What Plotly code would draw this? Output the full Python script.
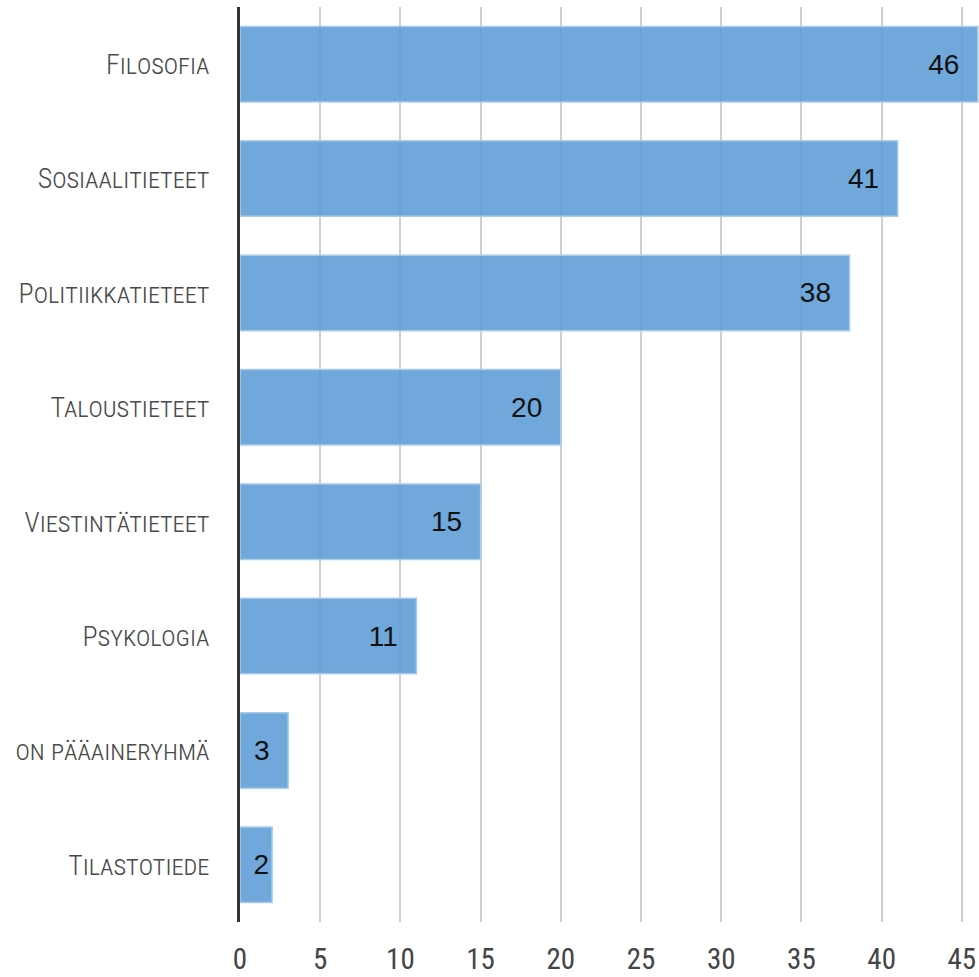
import plotly.graph_objects as go

categories = ["Filosofia", "Sosiaalitieteet", "Politiikkatieteet", "Taloustieteet",
              "Viestintätieteet", "Psykologia", "on pääaineryhmä", "Tilastotiede"]
values = [46, 41, 38, 20, 15, 11, 3, 2]
x_ticks = [0, 5, 10, 15, 20, 25, 30, 35, 40, 45]

NARROW = "Liberation Sans Narrow, Roboto Condensed, Roboto, sans-serif"

fig = go.Figure(go.Bar(
    y=categories,
    x=values,
    orientation="h",
    marker=dict(color="rgba(92,156,214,0.88)", line=dict(color="#a9cbea", width=1.5)),
    text=[f"{v}\u00a0\u00a0" if v >= 3 else f"{v}" for v in values],
    textposition="inside",
    insidetextanchor="end",
    textangle=0,
    constraintext="none",
    textfont=dict(family="Liberation Sans, Roboto, sans-serif", size=28, color="#111111"),
    cliponaxis=False,
))

fig.update_layout(
    width=979, height=977,
    margin=dict(l=240, r=0, t=7, b=55),
    paper_bgcolor="white", plot_bgcolor="white",
    bargap=0.34,
    showlegend=False,
)
fig.update_xaxes(
    range=[0, 46.07],
    tickvals=x_ticks,
    showgrid=True, gridcolor="#cfcfcf", gridwidth=1.5,
    zeroline=False, showline=False,
    ticks="", ticklabelstandoff=17, automargin=False,
    tickfont=dict(family=NARROW, size=29, color="#444444"),
)
fig.update_yaxes(
    categoryorder="array", categoryarray=categories, autorange="reversed",
    showgrid=False, zeroline=False,
    showline=True, linecolor="#333333", linewidth=3,
    ticks="", ticklabelstandoff=22, automargin=False,
    tickfont=dict(family=NARROW, size=28, color="#4a4a4a", variant="small-caps", weight=300),
)

fig.write_html("out.html", config={"displayModeBar": False},
               post_script="document.body.style.margin='0';document.body.style.overflow='hidden';")
